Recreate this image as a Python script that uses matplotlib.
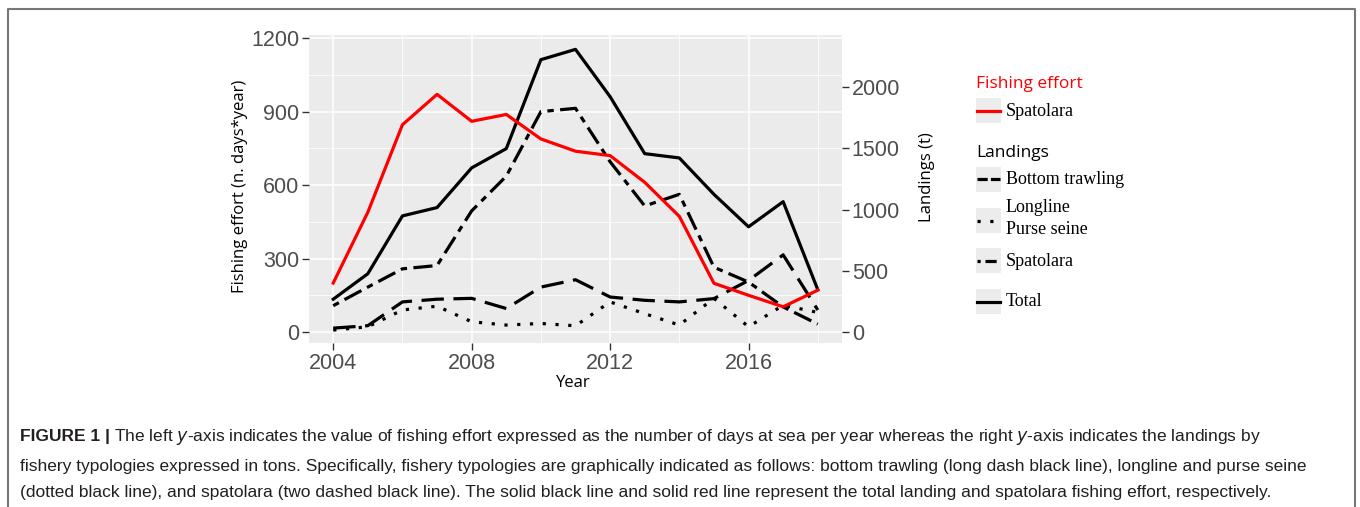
import matplotlib
matplotlib.use("Agg")
import matplotlib.pyplot as plt
from matplotlib.lines import Line2D
from matplotlib.patches import Rectangle

# ---------------- data ----------------
years = [2004, 2005, 2006, 2007, 2008, 2009, 2010, 2011, 2012, 2013, 2014, 2015, 2016, 2017, 2018]
effort_spatolara = [200, 489, 846, 970, 860, 888, 788, 738, 720, 611, 472, 199, 150, 103, 171]
land_total = [268, 476, 948, 1016, 1340, 1497, 2223, 2307, 1921, 1456, 1421, 1124, 859, 1064, 346]
land_spatolara = [215, 367, 516, 543, 989, 1272, 1799, 1826, 1390, 1029, 1124, 529, 408, 205, 65]
land_bottom = [32, 52, 246, 268, 275, 192, 367, 427, 286, 259, 246, 273, 421, 630, 180]
land_longline = [16, 43, 180, 211, 84, 57, 70, 51, 246, 150, 57, 275, 43, 219, 160]

left_ticks = [0, 300, 600, 900, 1200]
left_minor = [150, 450, 750, 1050]
right_ticks = [0, 500, 1000, 1500, 2000]
x_ticks = [2004, 2008, 2012, 2016]
x_minor = [2006, 2010, 2014, 2018]

caption_bold = "FIGURE 1 |"
caption_lines = [
    "The left $\\it{y}$-axis indicates the value of fishing effort expressed as the number of days at sea per year whereas the right $\\it{y}$-axis indicates the landings by",
    "fishery typologies expressed in tons. Specifically, fishery typologies are graphically indicated as follows: bottom trawling (long dash black line), longline and purse seine",
    "(dotted black line), and spatolara (two dashed black line). The solid black line and solid red line represent the total landing and spatolara fishing effort, respectively.",
]

W, H = 1360, 507
fig = plt.figure(figsize=(W / 100, H / 100), dpi=100)

def fx(px):
    return px / W

def fy(py):
    return 1 - py / H

L, R, T, B = 309, 842, 35, 343
ax = fig.add_axes([fx(L), fy(B), fx(R) - fx(L), fy(T) - fy(B)])
for s in ax.spines.values():
    s.set_visible(False)
ax.set_xlim(2003.3, 2018.7)
ax.set_ylim(-44.7, 1212.2)
ax.set_xticks(x_ticks)
ax.set_yticks(left_ticks)
ax.tick_params(which="major", length=5, width=1, color="#333333",
               labelsize=15.5, labelcolor="#4d4d4d", pad=2)
for lab in ax.get_xticklabels() + ax.get_yticklabels():
    lab.set_fontfamily("Liberation Sans")

ax2 = ax.twinx()
for s in ax2.spines.values():
    s.set_visible(False)
ax2.set_ylim(-44.7 * 2, 1212.2 * 2)
ax2.set_yticks(right_ticks)
ax2.tick_params(length=5, width=1, color="#333333", labelsize=15.5,
                labelcolor="#4d4d4d", pad=2)
for lab in ax2.get_yticklabels():
    lab.set_fontfamily("Liberation Sans")
ax2.patch.set_visible(True)
ax2.set_facecolor("#ebebeb")

# grid (left-scale breaks) drawn on the back axis
for v in left_ticks:
    ax2.axhline(v * 2, color="white", lw=1.1, zorder=0)
for v in left_minor:
    ax2.axhline(v * 2, color="white", lw=0.55, zorder=0)
for v in x_ticks:
    ax2.axvline(v, color="white", lw=1.1, zorder=0)
for v in x_minor:
    ax2.axvline(v, color="white", lw=0.55, zorder=0)

lw = 2.3
ax2.plot(years, land_longline, color="black", lw=lw, dashes=(1, 3), dash_capstyle="butt")
ax2.plot(years, land_bottom, color="black", lw=lw, dashes=(7, 3), dash_capstyle="butt")
ax2.plot(years, land_spatolara, color="black", lw=lw, dashes=(2, 2, 6, 2), dash_capstyle="butt")
ax2.plot(years, land_total, color="black", lw=lw)
ax.plot(years, effort_spatolara, color="#ff0000", lw=lw)
ax.set_zorder(ax2.get_zorder() + 1)
ax.patch.set_visible(False)

# axis titles
font_ax = "Open Sans"
fig.text(fx(240), fy(186), "Fishing effort (n. days*year)", rotation=90, ha="center",
         va="center", fontsize=12, fontfamily=font_ax, color="black")
fig.text(fx(573), fy(383), "Year", ha="center", va="center", fontsize=12,
         fontfamily=font_ax, color="black")
fig.text(fx(927), fy(177), "Landings (t)", rotation=90, ha="center", va="center",
         fontsize=12, fontfamily=font_ax, color="black")

# legend (drawn manually)
key_col = "#ececec"
def key(y0, style):
    fig.patches.append(Rectangle((fx(976), fy(y0 + 25)), fx(25), 25 / H,
                                 transform=fig.transFigure, facecolor=key_col,
                                 edgecolor="none"))
    yc = fy(y0 + 12.5)
    color = style.pop("color", "black")
    fig.lines.append(Line2D([fx(977), fx(1000)], [yc, yc], transform=fig.transFigure,
                            color=color, lw=lw, dash_capstyle="butt", **style))

serif = "Liberation Serif"
fig.text(fx(976), fy(84), "Fishing effort", color="#ff0000", fontsize=12.5,
         fontfamily=font_ax, va="center", ha="left")
key(98, {"color": "#ff0000"})
fig.text(fx(1006), fy(111), "Spatolara", fontsize=13, fontfamily=serif, va="center")
fig.text(fx(976), fy(153), "Landings", color="black", fontsize=12.5,
         fontfamily=font_ax, va="center", ha="left")
key(167, {"dashes": (3.2, 1.0)})
fig.text(fx(1006), fy(180), "Bottom trawling", fontsize=13, fontfamily=serif, va="center")
key(208, {"dashes": (1, 3)})
fig.text(fx(1006), fy(207), "Longline", fontsize=13, fontfamily=serif, va="center")
fig.text(fx(1006), fy(230), "Purse seine", fontsize=13, fontfamily=serif, va="center")
key(248, {"dashes": (1, 1.5, 3.5, 1.5)})
fig.text(fx(1006), fy(261), "Spatolara", fontsize=13, fontfamily=serif, va="center")
key(289, {})
fig.text(fx(1006), fy(301), "Total", fontsize=13, fontfamily=serif, va="center")

# border
fig.lines.append(Line2D([fx(8), fx(8), fx(1355), fx(1355)], [0, fy(9), fy(9), 0],
                        transform=fig.transFigure, color="#777777", lw=1.5))

# caption, fitted to the reference widths
cap_font = "Liberation Sans"
cap_col = "#231f20"
renderer = fig.canvas.get_renderer()

def width_px(txt):
    return txt.get_window_extent(renderer=renderer).width

probe = fig.text(0, 0, caption_lines[1], fontsize=12, fontfamily=cap_font)
w12 = width_px(probe)
probe.remove()
cs = 12 * (1308 - 20) / w12

tb = fig.text(fx(20), fy(437), caption_bold, fontsize=cs, fontweight="bold",
              fontfamily=cap_font, va="center", ha="left", color=cap_col)
x1 = 20 + width_px(tb) + cs * 0.35
fig.text(fx(x1), fy(437), caption_lines[0], fontsize=cs, fontfamily=cap_font,
         va="center", ha="left", color=cap_col)
fig.text(fx(20), fy(466), caption_lines[1], fontsize=cs, fontfamily=cap_font,
         va="center", ha="left", color=cap_col)
fig.text(fx(20), fy(492), caption_lines[2], fontsize=cs, fontfamily=cap_font,
         va="center", ha="left", color=cap_col)

fig.savefig("out.png", dpi=100)
